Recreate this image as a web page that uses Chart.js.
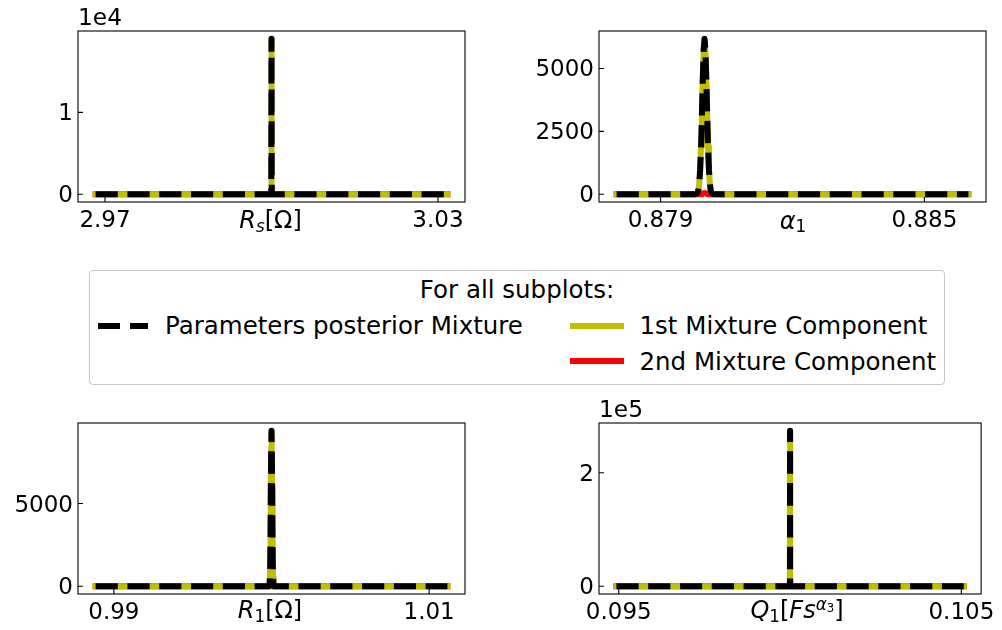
<!DOCTYPE html>
<html>
<head>
<meta charset="utf-8">
<script src="https://cdn.jsdelivr.net/npm/chart.js@4.4.1/dist/chart.umd.min.js"></script>
<style>
  html, body { margin: 0; padding: 0; background: #fff; }
  body { position: relative; width: 1002px; height: 630px; overflow: hidden; font-family: "DejaVu Sans", sans-serif; color: #000; }
  canvas { position: absolute; }
  .xl { position: absolute; font-size: 24px; line-height: 24px; white-space: nowrap; transform: translateX(-50%); }
  .xl i { font-style: italic; }
  .sb { position: relative; font-size: 70%; top: 3.6px; }
  .sp { position: relative; font-size: 70%; top: -8.3px; }
  .sp .sb { top: 2.4px; }
  #legendBox { position: absolute; left: 89px; top: 270px; width: 856px; height: 115px; box-sizing: border-box;
               border: 1px solid #c8c8c8; border-radius: 4px; background: rgba(255,255,255,0.8); }
  .lt { position: absolute; font-size: 24.5px; line-height: 24.5px; white-space: nowrap; }
  .lh { position: absolute; height: 6px; }
</style>
</head>
<body>
<canvas id="cRs"></canvas>
<canvas id="cA1"></canvas>
<canvas id="cR1"></canvas>
<canvas id="cQ1"></canvas>

<div id="legendBox"></div>
<div class="lt" id="legTitle" style="left:517px; top:278.3px; transform:translateX(-50%);"></div>
<div class="lh" style="left:98.3px; top:322.7px; width:22.2px; background:#000;"></div>
<div class="lh" style="left:130.1px; top:322.7px; width:18.2px; background:#000;"></div>
<div class="lt" id="leg0" style="left:165px; top:313.8px;"></div>
<div class="lh" style="left:569.5px; top:322.7px; width:54px; background:#bfbf00;"></div>
<div class="lt" id="leg1" style="left:639.5px; top:313.8px;"></div>
<div class="lh" style="left:569.5px; top:358px; width:54px; background:#ff0000;"></div>
<div class="lt" id="leg2" style="left:639.5px; top:350.3px;"></div>

<script>
// ---- R_s posterior density ----
const rsX = [2.9683, 2.99992, 2.99993, 2.99994, 2.99995, 2.99996, 2.99997, 2.99998, 2.99999, 3.0,
             3.00001, 3.00002, 3.00003, 3.00004, 3.00005, 3.00006, 3.00007, 3.00008, 3.0317];
const rsMix   = [0, 0, 70, 300, 1100, 3100, 6800, 12100, 16900, 19000, 16900, 12100, 6800, 3100, 1100, 300, 70, 0, 0];
const rsComp1 = [0, 0, 70, 300, 1100, 3100, 6800, 12060, 16850, 18950, 16850, 12060, 6800, 3100, 1100, 300, 70, 0, 0];
const rsComp2 = [0, 0, 0, 0, 0, 0, 0, 40, 50, 50, 50, 40, 0, 0, 0, 0, 0, 0, 0];
const rsXTicks = [2.97, 3.03];
const rsXTickLabels = ['2.97', '3.03'];
const rsYTicks = [0, 10000];
const rsYTickLabels = ['0', '1'];

// ---- alpha_1 posterior density ----
const a1X = [0.878, 0.87978, 0.8798, 0.87982, 0.87984, 0.87986, 0.87988, 0.8799, 0.87992, 0.87994, 0.87996, 0.87998,
             0.88, 0.88002, 0.88004, 0.88006, 0.88008, 0.8801, 0.88012, 0.88014, 0.88016, 0.88018, 0.8802, 0.88022, 0.886];
const a1Mix   = [0, 1, 4, 15, 54, 165, 430, 975, 1895, 3175, 4595, 5740, 6180, 5740, 4595, 3175, 1895, 975, 430, 165, 54, 15, 4, 1, 0];
const a1Comp1 = [0, 1, 4, 15, 54, 165, 430, 975, 1895, 3165, 4570, 5700, 6135, 5700, 4570, 3165, 1895, 975, 430, 165, 54, 15, 4, 1, 0];
const a1Comp2 = [0, 0, 0, 0, 0, 0, 0, 0, 0, 10, 25, 40, 45, 40, 25, 10, 0, 0, 0, 0, 0, 0, 0, 0, 0];
const a1XTicks = [0.879, 0.885];
const a1XTickLabels = ['0.879', '0.885'];
const a1YTicks = [0, 2500, 5000];
const a1YTickLabels = ['0', '2500', '5000'];

// ---- R_1 posterior density ----
const r1X = [0.98884, 0.99982, 0.99984, 0.99986, 0.99988, 0.9999, 0.99992, 0.99994, 0.99996, 0.99998, 1.0,
             1.00002, 1.00004, 1.00006, 1.00008, 1.0001, 1.00012, 1.00014, 1.00016, 1.00018, 1.01116];
const r1Mix   = [0, 0, 7, 37, 160, 553, 1530, 3385, 5980, 8395, 9400, 8395, 5980, 3385, 1530, 553, 160, 37, 7, 0, 0];
const r1Comp1 = [0, 0, 7, 37, 160, 553, 1530, 3385, 5960, 8360, 9360, 8360, 5960, 3385, 1530, 553, 160, 37, 7, 0, 0];
const r1Comp2 = [0, 0, 0, 0, 0, 0, 0, 0, 20, 35, 40, 35, 20, 0, 0, 0, 0, 0, 0, 0, 0];
const r1XTicks = [0.99, 1.01];
const r1XTickLabels = ['0.99', '1.01'];
const r1YTicks = [0, 5000];
const r1YTickLabels = ['0', '5000'];

// ---- Q_1 posterior density ----
const q1X = [0.09493, 0.099993, 0.099994, 0.099995, 0.099996, 0.099997, 0.099998, 0.099999, 0.1,
             0.100001, 0.100002, 0.100003, 0.100004, 0.100005, 0.100006, 0.100007, 0.10507];
const q1Mix   = [0, 0, 60, 770, 6300, 32900, 106600, 216500, 274000, 216500, 106600, 32900, 6300, 770, 60, 0, 0];
const q1Comp1 = [0, 0, 60, 770, 6300, 32900, 106400, 216000, 273200, 216000, 106400, 32900, 6300, 770, 60, 0, 0];
const q1Comp2 = [0, 0, 0, 0, 0, 0, 200, 500, 800, 500, 200, 0, 0, 0, 0, 0, 0];
const q1XTicks = [0.095, 0.105];
const q1XTickLabels = ['0.095', '0.105'];
const q1YTicks = [0, 200000];
const q1YTickLabels = ['0', '2'];

// Axis titles (mathtext-style) and scale multipliers shown above the y axes
const axisTitles = [
  '<i>R</i><span class="sb"><i>s</i></span>[Ω]',
  '<i>α</i><span class="sb">1</span>',
  '<i>R</i><span class="sb">1</span>[Ω]',
  '<i>Q</i><span class="sb">1</span>[<i>Fs</i><span class="sp"><i>α</i><span class="sb">3</span></span>]'
];
const offsetLabels = ['1e4', '', '', '1e5'];

// Legend entries
const legendTitle = 'For all subplots:';
const seriesNames = ['Parameters posterior Mixture', '1st Mixture Component', '2nd Mixture Component'];
const seriesColors = ['#000000', '#bfbf00', '#ff0000'];

document.getElementById('legTitle').textContent = legendTitle;
seriesNames.forEach((n, i) => { document.getElementById('leg' + i).textContent = n; });

const TICK_FONT = 23;
Chart.defaults.font.family = '"DejaVu Sans"';
Chart.defaults.font.size = TICK_FONT;
Chart.defaults.color = '#000';

const Y_AXIS_W = 78, X_AXIS_H = 40, PAD_TOP = 31, PAD_RIGHT = 14;

// Frame, inward tick marks and the offset multiplier text
const framePlugin = {
  id: 'frame',
  afterDraw(chart, args, opts) {
    const { ctx, chartArea: a, scales: { x, y } } = chart;
    ctx.save();
    ctx.strokeStyle = '#000';
    ctx.lineWidth = 1.1;
    ctx.strokeRect(a.left, a.top, a.right - a.left, a.bottom - a.top);
    ctx.beginPath();
    x.ticks.forEach(t => {
      const px = x.getPixelForValue(t.value);
      ctx.moveTo(px, a.bottom); ctx.lineTo(px, a.bottom - 4.9);
    });
    y.ticks.forEach(t => {
      const py = y.getPixelForValue(t.value);
      ctx.moveTo(a.left, py); ctx.lineTo(a.left + 4.9, py);
    });
    ctx.stroke();
    if (opts.offset) {
      ctx.fillStyle = '#000';
      ctx.font = '23.3px "DejaVu Sans"';
      ctx.textAlign = 'left';
      ctx.textBaseline = 'alphabetic';
      ctx.fillText(opts.offset, a.left, a.top - 6);
    }
    ctx.restore();
  }
};

function makePanel(id, box, xs, mix, c1, c2, xt, xtl, yt, ytl, offset, title, titleX, titleBase) {
  const cv = document.getElementById(id);
  const w = Y_AXIS_W + (box.r - box.l) + PAD_RIGHT;
  const h = PAD_TOP + (box.b - box.t) + X_AXIS_H;
  cv.width = w; cv.height = h;
  cv.style.left = (box.l - Y_AXIS_W) + 'px';
  cv.style.top = (box.t - PAD_TOP) + 'px';
  cv.style.width = w + 'px'; cv.style.height = h + 'px';

  const xmin = Math.min(...xs), xmax = Math.max(...xs);
  const ymax = Math.max(...mix);
  const xm = 0.05 * (xmax - xmin), ym = 0.05 * ymax;
  const pts = arr => xs.map((x, i) => ({ x, y: arr[i] }));
  const line = (data, color, dash) => ({
    data, borderColor: color, borderWidth: 6, pointRadius: 0, tension: 0,
    borderDash: dash || [], borderCapStyle: dash ? 'butt' : 'square', borderJoinStyle: 'round'
  });

  new Chart(cv, {
    type: 'line',
    data: {
      datasets: [
        line(pts(mix), seriesColors[0], [22.2, 9.6]),
        line(pts(c1), seriesColors[1]),
        line(pts(c2), seriesColors[2])
      ]
    },
    options: {
      responsive: false,
      devicePixelRatio: 1,
      animation: false,
      events: [],
      layout: { padding: { left: 0, top: PAD_TOP, right: PAD_RIGHT, bottom: 0 } },
      plugins: { legend: { display: false }, tooltip: { enabled: false }, frame: { offset } },
      scales: {
        x: {
          type: 'linear', bounds: 'data', min: xmin - xm, max: xmax + xm,
          grid: { display: false, drawTicks: false }, border: { display: false },
          afterBuildTicks: s => { s.ticks = xt.map(v => ({ value: v })); },
          afterFit: s => { s.height = X_AXIS_H; },
          ticks: { padding: 5, maxRotation: 0, autoSkip: false, callback: (v, i) => xtl[i] }
        },
        y: {
          type: 'linear', bounds: 'data', min: -ym, max: ymax + ym,
          grid: { display: false, drawTicks: false }, border: { display: false },
          afterBuildTicks: s => { s.ticks = yt.map(v => ({ value: v })); },
          afterFit: s => { s.width = Y_AXIS_W; },
          ticks: { padding: 5, labelOffset: 2, autoSkip: false, callback: (v, i) => ytl[i] }
        }
      }
    },
    plugins: [framePlugin]
  });

  const t = document.createElement('div');
  t.className = 'xl';
  t.innerHTML = title;
  t.style.left = titleX + 'px';
  t.style.top = (titleBase - 20.3) + 'px';
  document.body.appendChild(t);
}

makePanel('cRs', { l: 78, t: 31, r: 465, b: 202 }, rsX, rsMix, rsComp1, rsComp2,
          rsXTicks, rsXTickLabels, rsYTicks, rsYTickLabels, offsetLabels[0], axisTitles[0], 270.5, 228.3);
makePanel('cA1', { l: 599, t: 31, r: 986, b: 202 }, a1X, a1Mix, a1Comp1, a1Comp2,
          a1XTicks, a1XTickLabels, a1YTicks, a1YTickLabels, offsetLabels[1], axisTitles[1], 793, 229);
makePanel('cR1', { l: 78, t: 423, r: 465, b: 594 }, r1X, r1Mix, r1Comp1, r1Comp2,
          r1XTicks, r1XTickLabels, r1YTicks, r1YTickLabels, offsetLabels[2], axisTitles[2], 270, 618.5);
makePanel('cQ1', { l: 599, t: 423, r: 986, b: 594 }, q1X, q1Mix, q1Comp1, q1Comp2,
          q1XTicks, q1XTickLabels, q1YTicks, q1YTickLabels, offsetLabels[3], axisTitles[3], 797, 618.5);
</script>
</body>
</html>
